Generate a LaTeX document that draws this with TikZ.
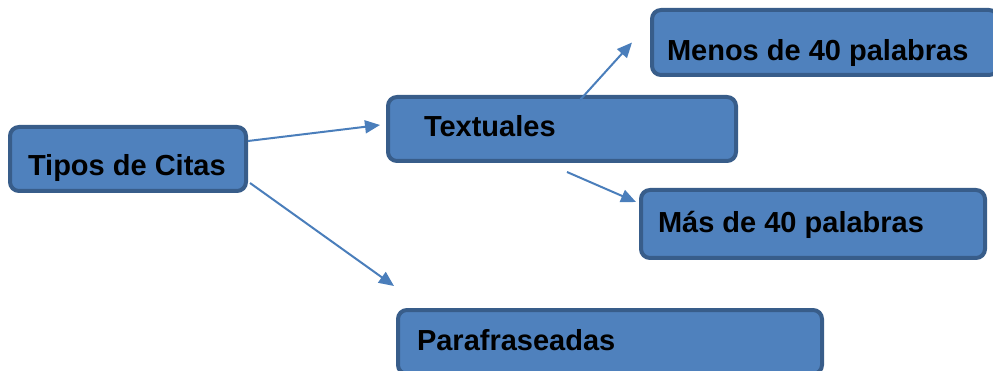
\documentclass[tikz,border=0pt]{standalone}
\usepackage{fontspec}
\setmainfont{Liberation Sans}
\usepackage{xcolor}
\definecolor{colorFill}{HTML}{4F81BD}
\definecolor{colorBorder}{HTML}{385D8A}
\definecolor{colorArrow}{HTML}{4A7EBB}
\usetikzlibrary{arrows.meta, positioning, calc}
\tikzset{cita/.style={draw=colorBorder, fill=colorFill, line width=4pt, rounded corners=9pt, anchor=north west, inner ysep=0pt, text depth=0pt, font=\fontsize{29}{34}\selectfont\bfseries}}
\newcommand{\citabox}[2]{\makebox[#1][l]{#2}}

\begin{document}
\begin{tikzpicture}[x=1pt, y=-1pt, >={Triangle[length=15pt,width=13pt]}, thick]
\useasboundingbox[clip] (0,0) rectangle (993,371);
\node[cita, minimum height=64pt, inner xsep=18pt, text height=34pt] (tipos) at (8,125) {\citabox{200pt}{Tipos de Citas}};
\node[cita, minimum height=64pt, inner xsep=36pt, text height=16pt] (textuales) at (386,95) {\citabox{276pt}{Textuales}};
\node[cita, minimum height=65pt, inner xsep=15pt, text height=37pt] (menos) at (650,8) {\citabox{316pt}{Menos de 40 palabras}};
\node[cita, minimum height=68pt, inner xsep=17pt, text height=18pt] (mas) at (639,188) {\citabox{310pt}{Más de 40 palabras}};
\node[cita, minimum height=64pt, inner xsep=19pt, text height=16pt] (para) at (396,308) {\citabox{386pt}{Parafraseadas}};
% puntas de las flechas
\coordinate (tipTextuales) at ($(textuales.west)+(-6,-4)$);
\coordinate (tipPara) at ($(para.north west)+(-2,-22)$);
\coordinate (tipMenos) at ($(menos.west)+(-18,0)$);
\coordinate (tipMas) at ($(mas.north west)+(-3,14)$);
\draw [->, colorArrow, line width=2pt] ($(tipos.north east)+(0,16)$) -- (tipTextuales);
\draw [->, colorArrow, line width=2pt] ($(tipos.south east)+(2,-10)$) -- (tipPara);
\draw [->, colorArrow, line width=2pt] ($(textuales.north)+(18,5)$) -- (tipMenos);
\draw [->, colorArrow, line width=2pt] ($(textuales.south)+(5,9)$) -- (tipMas);
\end{tikzpicture}
\end{document}
